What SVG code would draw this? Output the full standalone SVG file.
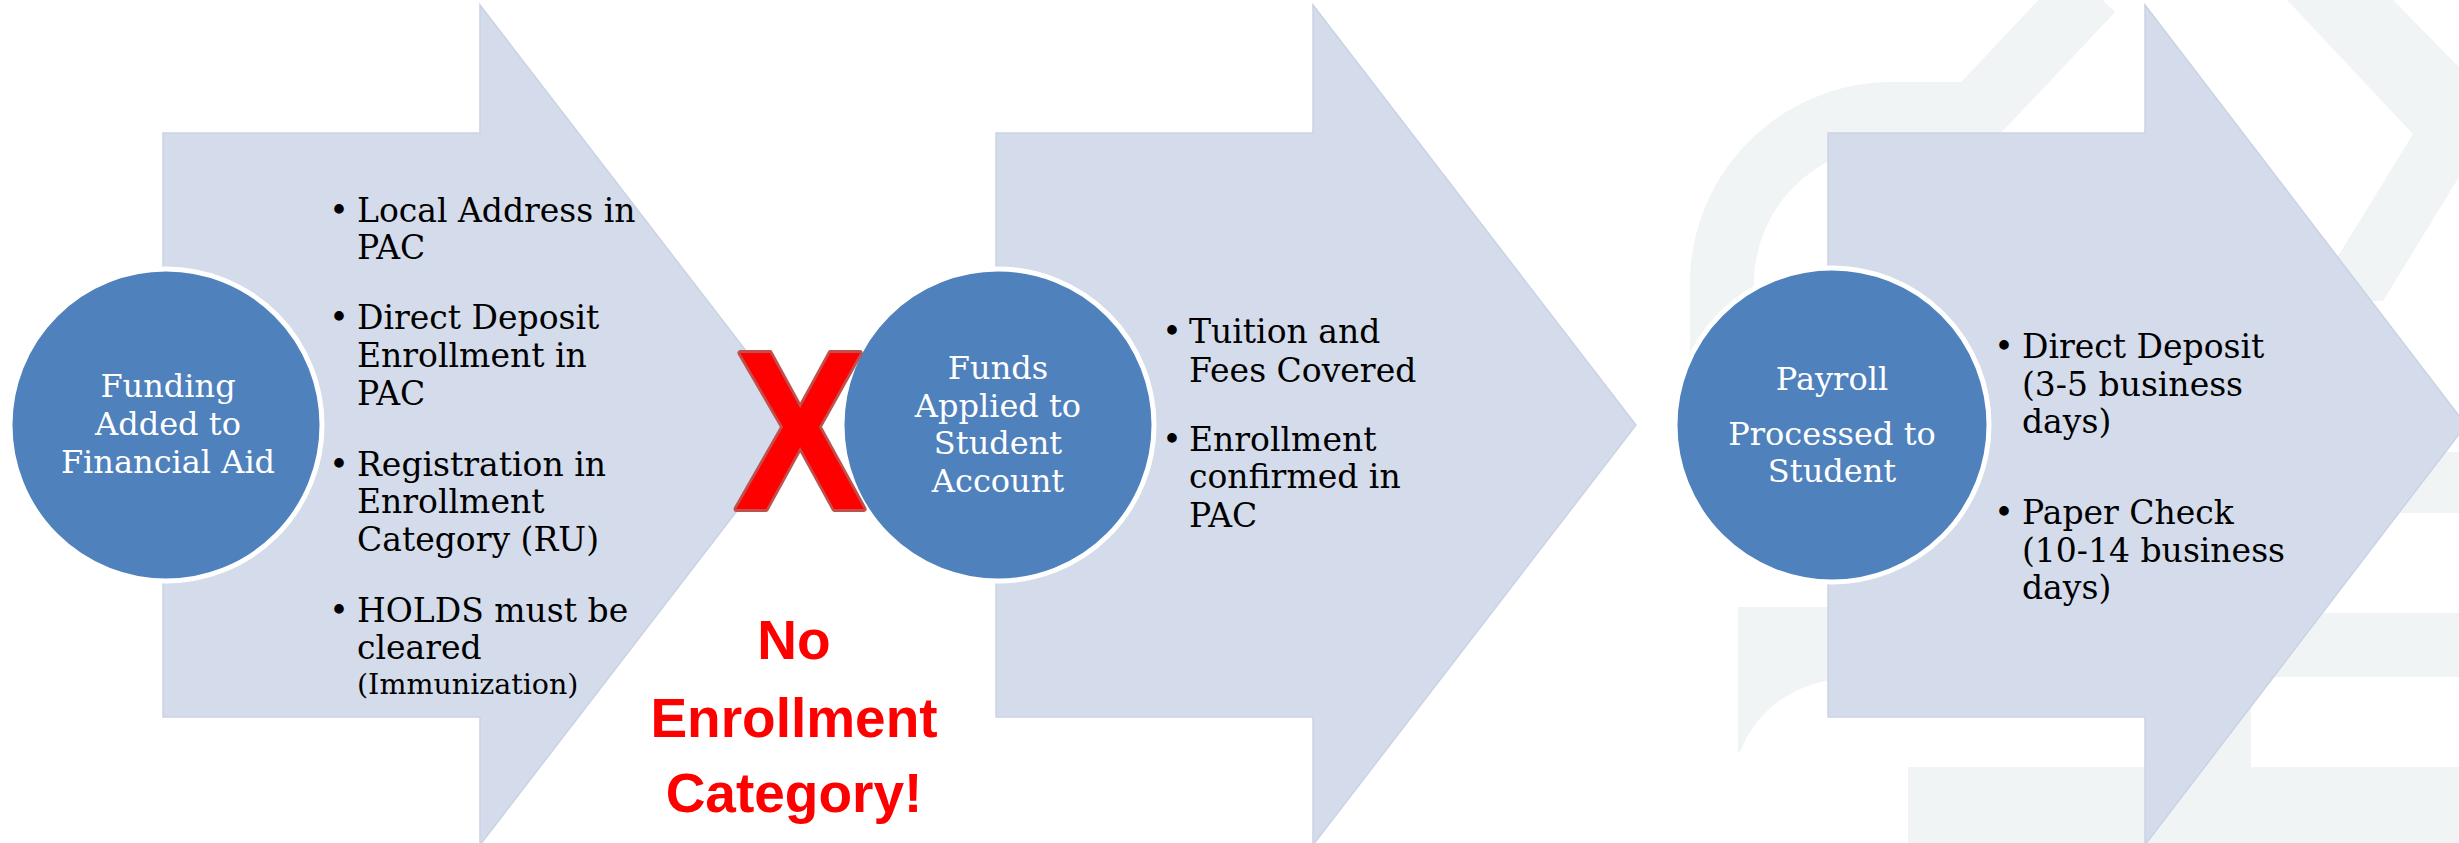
<svg xmlns="http://www.w3.org/2000/svg" width="2459" height="843" viewBox="0 0 2459 843">
<defs>
<style>
.wm{fill:#F1F4F5;stroke:none}
.wms{fill:none;stroke:#F1F4F5}
.arrow{fill:#D4DBEA;stroke:#CAD3E5;stroke-width:1.5}
.circ{fill:#4F81BD;stroke:#FFFFFF;stroke-width:5}
.ct{font-family:"DejaVu Serif","Liberation Serif",serif;font-size:32px;fill:#FFFFFF;text-anchor:middle}
.bt{font-family:"DejaVu Serif","Liberation Serif",serif;font-size:33px;fill:#000000}
.sm{font-size:28.5px}
.bd{font-family:"DejaVu Serif","Liberation Serif",serif;font-size:33px;fill:#000000;text-anchor:middle}
.red{font-family:"Liberation Sans",Arial,sans-serif;font-weight:bold;font-size:55px;fill:#FF0000;text-anchor:middle}
.x{font-family:"Liberation Sans",Arial,sans-serif;font-weight:bold;font-size:226px;fill:#FF0000;stroke:#C0504D;stroke-width:6;stroke-linejoin:round;text-anchor:middle;paint-order:stroke}
</style>
</defs>
<rect width="2459" height="843" fill="#FFFFFF"/>
<g id="watermark">
<path class="wms" stroke-width="64" d="M2092,-10 L1975,114 L1890,114 A170,170 0 0 0 1722,290 L1722,430"/>
<path class="wms" stroke-width="62" d="M2330,-20 L2440,92 L2460,120"/>
<path class="wm" d="M2287,0 L2373,0 L2459,91 L2459,177 L2383,301 L2300,301 L2340,253 L2413,134 Z"/>
<path class="wm" d="M1738,752 L1738,607 L2000,607 L2000,679 L1840,679 C1790,684 1756,712 1740,752 Z"/>
<rect class="wm" x="2100" y="452" width="359" height="61"/>
<rect class="wm" x="2000" y="613" width="459" height="64"/>
<rect class="wm" x="2169" y="677" width="82" height="166"/>
<rect class="wm" x="1908" y="767" width="551" height="76"/>
</g>
<g id="step1-arrow">
<polygon class="arrow" points="163,133 480,133 480,5 803,425 480,845 480,717 163,717"/>
<text class="bd" x="339" y="222">•</text>
<text class="bt" x="357" y="222">Local Address in</text>
<text class="bt" x="357" y="259">PAC</text>
<text class="bd" x="339" y="329">•</text>
<text class="bt" x="357" y="329">Direct Deposit</text>
<text class="bt" x="357" y="367">Enrollment in</text>
<text class="bt" x="357" y="405">PAC</text>
<text class="bd" x="339" y="476">•</text>
<text class="bt" x="357" y="476">Registration in</text>
<text class="bt" x="357" y="513">Enrollment</text>
<text class="bt" x="357" y="551">Category (RU)</text>
<text class="bd" x="339" y="622">•</text>
<text class="bt" x="357" y="622">HOLDS must be</text>
<text class="bt" x="357" y="659">cleared</text>
<text class="bt sm" x="357" y="694">(Immunization)</text>
</g>
<g id="step1-circle">
<circle class="circ" cx="166" cy="425" r="156"/>
<text class="ct" x="168" y="397">Funding</text>
<text class="ct" x="168" y="435">Added to</text>
<text class="ct" x="168" y="473">Financial Aid</text>
</g>
<g id="step2-arrow">
<polygon class="arrow" points="996,133 1313,133 1313,5 1636,425 1313,845 1313,717 996,717"/>
<text class="bd" x="1172" y="343">•</text>
<text class="bt" x="1189" y="343">Tuition and</text>
<text class="bt" x="1189" y="382">Fees Covered</text>
<text class="bd" x="1172" y="451">•</text>
<text class="bt" x="1189" y="451">Enrollment</text>
<text class="bt" x="1189" y="488">confirmed in</text>
<text class="bt" x="1189" y="527">PAC</text>
</g>
<g id="step2-circle">
<circle class="circ" cx="998" cy="425" r="156"/>
<text class="ct" x="998" y="379">Funds</text>
<text class="ct" x="998" y="417">Applied to</text>
<text class="ct" x="998" y="454">Student</text>
<text class="ct" x="998" y="492">Account</text>
</g>
<g id="step3-arrow">
<polygon class="arrow" points="1828,133 2145,133 2145,5 2466,425 2145,845 2145,717 1828,717"/>
<text class="bd" x="2004" y="358">•</text>
<text class="bt" x="2022" y="358">Direct Deposit</text>
<text class="bt" x="2022" y="396">(3-5 business</text>
<text class="bt" x="2022" y="433">days)</text>
<text class="bd" x="2004" y="524">•</text>
<text class="bt" x="2022" y="524">Paper Check</text>
<text class="bt" x="2022" y="562">(10-14 business</text>
<text class="bt" x="2022" y="599">days)</text>
</g>
<g id="step3-circle">
<circle class="circ" cx="1832" cy="425" r="157"/>
<text class="ct" x="1832" y="390">Payroll</text>
<text class="ct" x="1832" y="445">Processed to</text>
<text class="ct" x="1832" y="482">Student</text>
</g>
<g id="blocker">
<text class="x" transform="translate(800,509) scale(0.87,1)" x="0" y="0">X</text>
<text class="red" x="794" y="659">No</text>
<text class="red" x="794" y="737">Enrollment</text>
<text class="red" x="794" y="812">Category!</text>
</g>
</svg>
